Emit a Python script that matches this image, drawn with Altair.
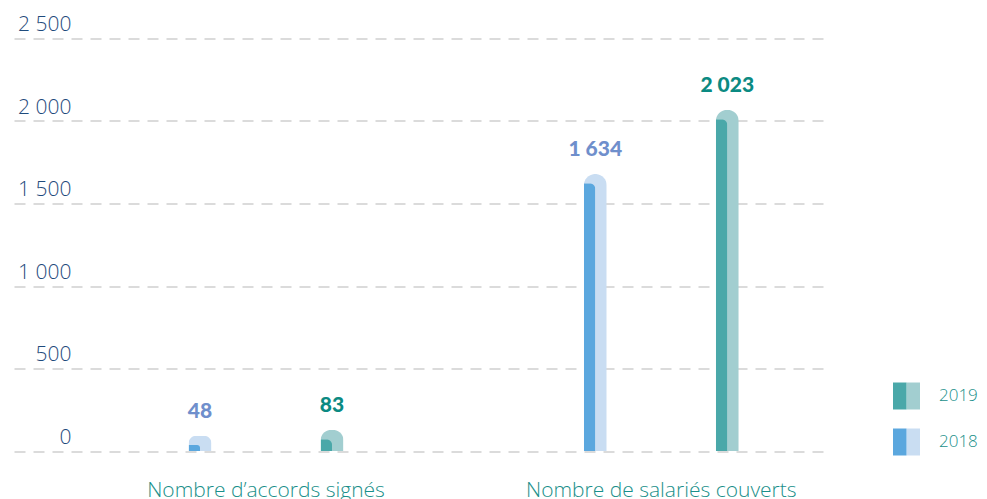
import altair as alt
import pandas as pd

categories = ["Nombre d’accords signés", "Nombre de salariés couverts"]
years = ["2018", "2019"]
values_2018 = [48, 1634]
values_2019 = [83, 2023]
labels_2018 = ["48", "1 634"]
labels_2019 = ["83", "2 023"]
y_ticks = [0, 500, 1000, 1500, 2000, 2500]

rows = []
for i, c in enumerate(categories):
    rows.append({"category": c, "year": "2018", "value": values_2018[i], "label": labels_2018[i]})
    rows.append({"category": c, "year": "2019", "value": values_2019[i], "label": labels_2019[i]})
df = pd.DataFrame(rows)

FONT = "Open Sans"
NUM_FONT = "Lato"
TEAL_TXT = "#1a8f8a"
AXIS_BLUE = "#1f4b7c"
dark_cols = {"2019": "#4aa8a9", "2018": "#5ba7de"}
light_cols = {"2019": "#a2ced0", "2018": "#c9ddf2"}
label_cols = {"2019": "#0b8a82", "2018": "#6f8fcc"}
legend_order = ["2019", "2018"]

x_enc = alt.X("category:N", sort=categories,
              scale=alt.Scale(paddingInner=0.332, paddingOuter=0.1932, align=0.786),
              axis=alt.Axis(title=None, ticks=False, domain=False, labelAngle=0,
                            labelFont=FONT, labelFontSize=21, labelFontWeight=300,
                            labelColor=TEAL_TXT, labelPadding=28, labelLimit=600, grid=False))
xo_enc = alt.XOffset("year:N", sort=years, scale=alt.Scale(paddingInner=0, paddingOuter=0))
# shifted offset scale so the darker half sits on the left side of each column
xo_dark = alt.XOffset("year:N", sort=years,
                      scale=alt.Scale(paddingInner=0.0871, paddingOuter=0.04355, align=0))
xo_text = alt.XOffset("year:N", sort=years, scale=alt.Scale(type="point", padding=0.5))
y_scale = alt.Scale(domain=[0, 2500], nice=False)
y_axis = alt.Axis(title=None, values=y_ticks, ticks=False, domain=False,
                  labelAlign="right", labelBaseline="bottom", labelPadding=-57,
                  labelOffset=-4, labelFont=FONT, labelFontSize=21, labelFontWeight=300,
                  labelColor=AXIS_BLUE,
                  labelExpr="replace(format(datum.value, ','), ',', ' ')",
                  grid=True, gridDash=[11, 8], gridColor="#d0d0d0", gridWidth=1.5)

base = alt.Chart(df)

common_legend = dict(orient="none", legendX=879, legendY=344, title=None,
                     symbolSize=729, symbolStrokeWidth=0, symbolOpacity=1,
                     rowPadding=19, labelOffset=19, labelFont=FONT, labelFontSize=17,
                     labelFontWeight=300, labelColor=TEAL_TXT, padding=0)

light = base.mark_bar(width=23, cornerRadiusTopLeft=11.5, cornerRadiusTopRight=11.5).transform_calculate(
    top="datum.value + 45"
).encode(
    x=x_enc, xOffset=xo_enc,
    y=alt.Y("top:Q", scale=y_scale, axis=y_axis),
    color=alt.Color("year:N",
                    scale=alt.Scale(domain=legend_order, range=[light_cols[y] for y in legend_order]),
                    legend=alt.Legend(symbolType="M0,-1H1V1H0Z", labelOpacity=0, **common_legend)),
)

dark = base.mark_bar(width=11.5, cornerRadiusTopRight=11).transform_calculate(
    bottom="datum.value - 12"
).encode(
    x=x_enc, xOffset=xo_dark,
    y=alt.Y("bottom:Q", scale=y_scale, axis=y_axis),
    color=alt.Color("year:N",
                    scale=alt.Scale(domain=legend_order, range=[dark_cols[y] for y in legend_order]),
                    legend=alt.Legend(symbolType="M-1,-1H0V1H-1Z", **common_legend)),
)

text = base.mark_text(baseline="bottom", dy=-14, font=NUM_FONT, fontSize=21, fontWeight=900).transform_calculate(
    top="datum.value + 45"
).encode(
    x=x_enc, xOffset=xo_text,
    y=alt.Y("top:Q", scale=y_scale, axis=y_axis),
    text="label:N",
    color=alt.Color("year:N",
                    scale=alt.Scale(domain=legend_order, range=[label_cols[y] for y in legend_order]),
                    legend=None),
)

chart = alt.layer(light, dark, text).resolve_scale(
    color="independent", xOffset="independent"
).properties(
    width=812, height=412.5,
    autosize=alt.AutoSizeParams(type="none"),
    padding={"left": 6, "top": 30.5, "right": 153, "bottom": 52},
    background="white",
).configure_view(stroke=None)

chart.save("out.html", embed_options={"renderer": "svg", "actions": False})
